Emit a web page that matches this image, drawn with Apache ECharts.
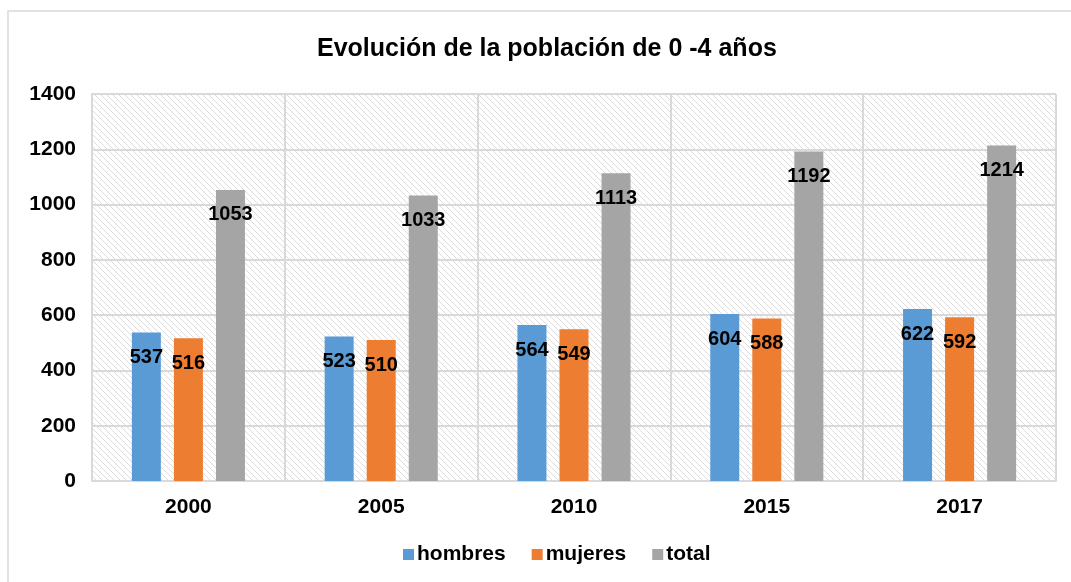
<!DOCTYPE html>
<html>
<head>
<meta charset="utf-8">
<script src="https://cdn.jsdelivr.net/npm/echarts@6/dist/echarts.min.js"></script>
<style>
  html, body { margin: 0; padding: 0; background: #fff; }
  #main { width: 1071px; height: 582px; }
</style>
</head>
<body>
<div id="main"></div>
<script>
// datos del gráfico
var years = ['2000', '2005', '2010', '2015', '2017'];
var hombres = [537, 523, 564, 604, 622];
var mujeres = [516, 510, 549, 588, 592];
var total = [1053, 1033, 1113, 1192, 1214];

// fondo rayado del área de trazado
function hatch() {
    var c = document.createElement('canvas');
    c.width = 6;
    c.height = 6;
    var ctx = c.getContext('2d');
    ctx.fillStyle = '#ffffff';
    ctx.fillRect(0, 0, 6, 6);
    ctx.strokeStyle = '#dcdcdc';
    ctx.lineWidth = 1;
    ctx.beginPath();
    ctx.moveTo(-1, -1); ctx.lineTo(7, 7);
    ctx.moveTo(-4, 2); ctx.lineTo(4, 10);
    ctx.moveTo(2, -4); ctx.lineTo(10, 4);
    ctx.stroke();
    return c;
}

var myChart = echarts.init(document.getElementById('main'));

var lbl = {
    show: true,
    position: 'insideTop',
    distance: 15,
    color: '#000',
    fontWeight: 'bold',
    fontSize: 20,
    fontFamily: 'Liberation Sans'
};

var option = {
    textStyle: { fontFamily: 'Liberation Sans' },
    title: {
        text: 'Evolución de la población de 0 -4 años',
        left: 312,
        top: 32,
        textStyle: { fontSize: 25, fontWeight: 'bold', color: '#000', fontFamily: 'Liberation Sans' }
    },
    graphic: [{
        type: 'rect',
        shape: { x: 8, y: 11, width: 1080, height: 600 },
        style: { fill: 'none', stroke: '#d9d9d9', lineWidth: 1.5 },
        silent: true,
        z: -10
    }],
    legend: {
        data: ['hombres', 'mujeres', 'total'],
        bottom: 12,
        left: 398,
        itemWidth: 11,
        itemHeight: 11,
        itemGap: 26,
        icon: 'rect',
        textStyle: { fontSize: 21, fontWeight: 'bold', color: '#000', padding: [0, 0, 0, -2] }
    },
    grid: {
        left: 92,
        right: 15,
        top: 94,
        bottom: 101,
        show: true,
        borderWidth: 0,
        backgroundColor: { image: hatch(), repeat: 'repeat' }
    },
    xAxis: {
        type: 'category',
        data: years,
        axisLine: { lineStyle: { color: '#d9d9d9', width: 2 } },
        axisTick: { show: false },
        splitLine: { show: true, lineStyle: { color: '#d9d9d9', width: 2 } },
        axisLabel: { fontSize: 21, fontWeight: 'bold', color: '#000', margin: 16 }
    },
    yAxis: {
        type: 'value',
        min: 0,
        max: 1400,
        interval: 200,
        axisLine: { show: true, lineStyle: { color: '#d9d9d9', width: 2 } },
        axisTick: { show: false },
        splitLine: { lineStyle: { color: '#d9d9d9', width: 2 } },
        axisLabel: {
            fontSize: 21, fontWeight: 'bold', color: '#000', margin: 16,
            formatter: function (v) { return String(v); }
        }
    },
    series: [
        {
            name: 'hombres', type: 'bar', data: hombres,
            barWidth: 29, barGap: '45%',
            itemStyle: { color: '#5B9BD5' },
            label: lbl
        },
        {
            name: 'mujeres', type: 'bar', data: mujeres,
            barWidth: 29, barGap: '45%',
            itemStyle: { color: '#ED7D31' },
            label: lbl
        },
        {
            name: 'total', type: 'bar', data: total,
            barWidth: 29, barGap: '45%',
            itemStyle: { color: '#A5A5A5' },
            label: lbl
        }
    ]
};

myChart.setOption(option);

window.onresize = function () {
    myChart.resize();
};
</script>
</body>
</html>
